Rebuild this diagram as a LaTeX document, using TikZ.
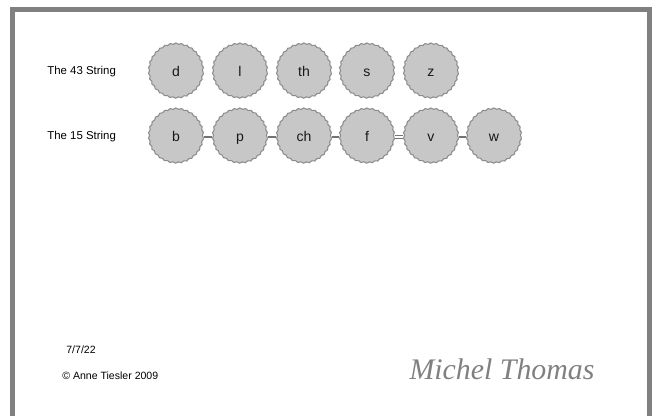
\documentclass[tikz,border=0pt]{standalone}
\usepackage{fontspec}
\setmainfont{Liberation Sans}
\newfontfamily\signfont{Liberation Serif}
\usetikzlibrary{decorations.pathmorphing}

\begin{document}
\begin{tikzpicture}[x=0.02cm, y=-0.02cm,
    bead/.style={circle, minimum size=1.08cm, inner sep=0pt,
      text height=1.2ex, text depth=0.2ex,
      fill=black!22, draw=black!45, line width=0.6pt,
      decorate, decoration={snake, segment length=3.2pt, amplitude=0.35pt},
      font=\fontsize{8}{9}\selectfont, text=black!90},
    rowlabel/.style={anchor=west, inner sep=0pt, font=\fontsize{6.5}{8}\selectfont},
    link/.style={draw=black!55, line width=0.6pt}]
  \useasboundingbox (0,0) rectangle (659,416);
  % frame
  \draw[black!50, line width=0.1cm] (12.5,416) -- (12.5,9.5) -- (649.5,9.5) -- (649.5,416);

  % first string
  \node[rowlabel] (lab1) at (47,72) {The 43 String};
  \node[bead] (d)  at (176,72) {d};
  \node[bead] (l)  at (240,72) {l};
  \node[bead] (th) at (304,72) {th};
  \node[bead] (s)  at (367,72) {s};
  \node[bead] (z)  at (431,72) {z};

  % second string
  \node[rowlabel] (lab2) at (47,137) {The 15 String};
  \node[bead] (b)  at (176,137) {b};
  \node[bead] (p)  at (240,137) {p};
  \node[bead] (ch) at (304,137) {ch};
  \node[bead] (f)  at (367,137) {f};
  \node[bead] (v)  at (431,137) {v};
  \node[bead] (w)  at (494,137) {w};
  \draw[link] (b) -- (p);
  \draw[link] (p) -- (ch);
  \draw[link] (ch) -- (f);
  \draw[link, double, double distance=1.2pt] (f) -- (v);
  \draw[link] (v) -- (w);

  % footer
  \node[rowlabel, font=\fontsize{6}{7}\selectfont] (date) at (66,350) {7/7/22};
  \node[rowlabel, font=\fontsize{6}{7}\selectfont] (copy) at (62,376) {© Anne Tiesler 2009};
  \node[text=black!50, font=\signfont\fontsize{17}{18}\selectfont\itshape] (sig) at (502,369) {Michel Thomas};
\end{tikzpicture}
\end{document}
